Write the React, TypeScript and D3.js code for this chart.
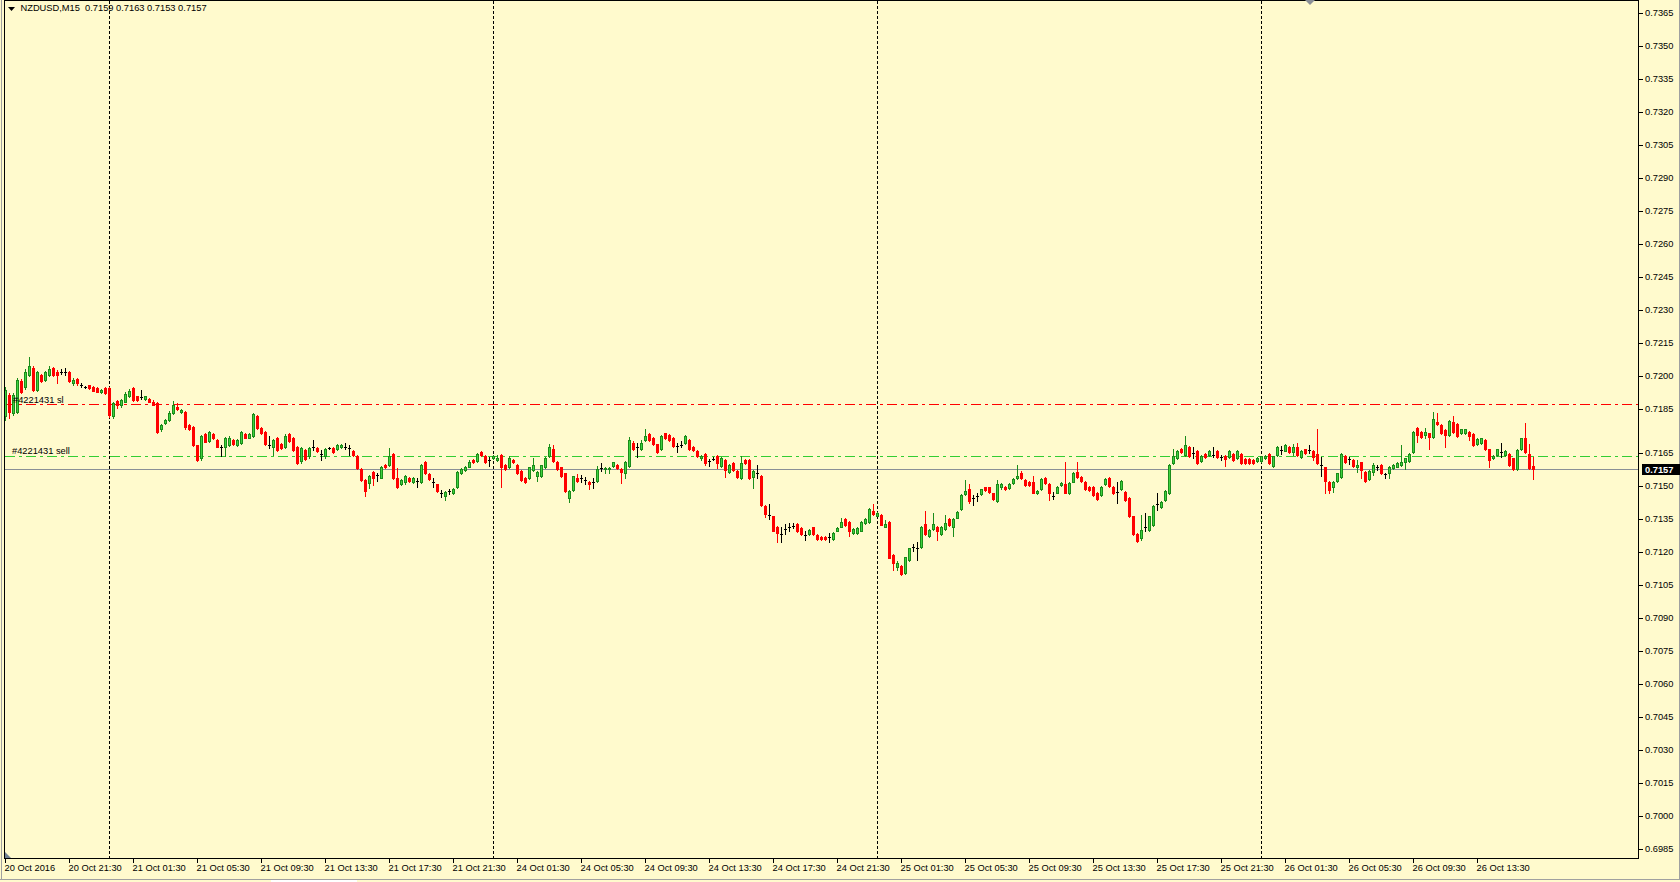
import React, { useRef, useEffect } from 'react';
import * as d3 from 'd3';

// NZDUSD M15, prices in pips (price * 10000), first bar 20 Oct 2016 17:30
const OPEN = [
  7181.5, 7191.3, 7183.0, 7183.7, 7197.4, 7195.1, 7200.4, 7203.4, 7193.6, 7200.4,
  7198.1, 7200.4, 7203.4, 7201.9, 7201.9, 7201.5, 7201.5, 7196.6, 7198.4, 7195.6,
  7195.1, 7195.6, 7195.1, 7194.3, 7192.4, 7194.3, 7194.3, 7181.5, 7188.6, 7186.8,
  7188.3, 7190.9, 7194.3, 7190.6, 7190.2, 7189.3, 7189.5, 7188.3, 7187.5, 7175.7,
  7178.5, 7179.9, 7183.0, 7185.7, 7183.4, 7183.7, 7177.7, 7176.9, 7168.3, 7162.5,
  7173.4, 7170.4, 7173.4, 7170.7, 7167.4, 7167.4, 7168.6, 7170.8, 7168.3, 7169.3,
  7173.4, 7171.9, 7172.4, 7181.8, 7176.1, 7174.3, 7168.6, 7167.4, 7171.9, 7168.9,
  7167.4, 7173.4, 7171.9, 7167.8, 7161.3, 7166.3, 7163.3, 7167.4, 7167.1, 7164.3,
  7163.3, 7167.1, 7167.1, 7166.6, 7167.4, 7167.8, 7167.1, 7165.8, 7163.7, 7157.7,
  7152.7, 7151.2, 7156.1, 7154.9, 7153.7, 7159.5, 7159.2, 7164.3, 7153.4, 7150.7,
  7151.6, 7153.7, 7151.6, 7152.2, 7151.6, 7160.7, 7155.2, 7151.6, 7150.7, 7146.6,
  7145.5, 7147.4, 7146.6, 7149.2, 7155.7, 7157.2, 7158.7, 7161.8, 7161.3, 7165.5,
  7163.6, 7161.8, 7162.5, 7161.8, 7164.0, 7159.5, 7158.3, 7161.8, 7159.5, 7156.8,
  7153.4, 7153.4, 7157.2, 7154.2, 7154.2, 7158.3, 7163.3, 7166.8, 7161.0, 7158.3,
  7155.7, 7144.3, 7148.1, 7153.7, 7153.4, 7152.7, 7151.6, 7151.6, 7152.2, 7157.9,
  7157.5, 7157.5, 7159.1, 7159.4, 7157.5, 7155.7, 7159.1, 7169.3, 7167.8, 7166.6,
  7170.8, 7173.5, 7171.6, 7168.8, 7166.6, 7173.8, 7173.1, 7171.6, 7168.1, 7168.7,
  7169.3, 7170.8, 7167.8, 7166.0, 7162.5, 7164.3, 7161.4, 7162.3, 7163.5, 7159.1,
  7161.7, 7156.4, 7160.5, 7156.7, 7153.4, 7161.7, 7161.7, 7154.1, 7156.0, 7154.4,
  7140.8, 7136.7, 7136.0, 7131.1, 7128.1, 7130.2, 7131.1, 7131.9, 7132.6, 7130.7,
  7127.6, 7128.1, 7131.0, 7127.6, 7126.9, 7126.9, 7126.6, 7125.7, 7129.6, 7131.4,
  7134.9, 7133.4, 7128.4, 7128.4, 7129.6, 7132.9, 7133.4, 7138.7, 7136.4, 7136.7,
  7131.4, 7133.5, 7118.5, 7113.2, 7113.5, 7110.5, 7116.2, 7122.3, 7121.5, 7122.3,
  7132.6, 7127.1, 7130.3, 7131.4, 7128.0, 7130.2, 7134.7, 7131.4, 7135.5, 7139.2,
  7146.2, 7148.3, 7144.2, 7145.4, 7146.2, 7149.2, 7149.2, 7146.5, 7143.2, 7149.3,
  7149.6, 7148.9, 7151.4, 7153.4, 7155.7, 7152.6, 7151.9, 7151.9, 7146.6, 7148.4,
  7153.4, 7150.8, 7145.4, 7146.9, 7150.4, 7150.8, 7146.6, 7151.9, 7156.4, 7153.9,
  7151.9, 7149.6, 7149.3, 7146.9, 7145.8, 7150.8, 7153.4, 7149.3, 7147.3, 7148.4,
  7147.3, 7144.3, 7136.0, 7128.0, 7126.0, 7131.0, 7130.0, 7132.0, 7141.7, 7140.2,
  7143.3, 7146.6, 7160.5, 7162.5, 7166.7, 7164.0, 7167.8, 7165.1, 7166.0, 7161.4,
  7164.5, 7164.0, 7164.0, 7166.0, 7163.0, 7163.6, 7163.0, 7164.5, 7162.5, 7164.5,
  7162.0, 7162.0, 7161.7, 7161.4, 7161.4, 7162.5, 7164.5, 7159.0, 7164.0, 7166.3,
  7166.0, 7167.7, 7165.5, 7167.7, 7163.2, 7166.5, 7166.2, 7165.8, 7164.4, 7159.4,
  7158.3, 7151.8, 7149.2, 7152.3, 7154.1, 7163.5, 7162.0, 7161.7, 7158.3, 7160.6,
  7156.4, 7152.9, 7156.4, 7158.3, 7159.4, 7155.3, 7155.6, 7157.9, 7158.7, 7159.4,
  7160.9, 7161.4, 7165.5, 7176.1, 7174.6, 7173.1, 7173.8, 7172.3, 7179.1, 7177.6,
  7175.3, 7173.1, 7179.1, 7178.0, 7174.1, 7173.8, 7174.6, 7173.5, 7169.0, 7169.3,
  7170.8, 7166.5, 7162.4, 7164.0, 7165.5, 7164.0, 7164.4, 7162.4, 7157.4, 7166.5,
  7171.5, 7164.4, 7159.0,
];

const HIGH = [
  7195, 7192, 7192, 7199, 7198.5, 7203, 7208.7, 7204.5, 7202, 7201,
  7202, 7204.5, 7204, 7202.5, 7203, 7203.5, 7202, 7199, 7199, 7196.5,
  7195.5, 7196, 7195.5, 7195, 7194, 7195, 7195, 7188, 7189, 7189.5,
  7192.5, 7194, 7195, 7191, 7193.6, 7191, 7190, 7188.8, 7188, 7178,
  7180.5, 7184, 7188.5, 7187.5, 7185, 7184.2, 7178, 7177.3, 7168.6, 7173.2,
  7174, 7175, 7174, 7171.2, 7168.6, 7172, 7172.5, 7171.3, 7171.3, 7175,
  7174, 7174, 7183, 7182.3, 7176.5, 7174.7, 7172.8, 7171.2, 7172.3, 7169.3,
  7173.3, 7173.8, 7172.3, 7168.2, 7167.5, 7166.8, 7167.5, 7170.8, 7167.5, 7166.3,
  7167.2, 7167.6, 7167.5, 7169, 7169, 7169.5, 7168.5, 7166.3, 7164, 7158,
  7153, 7155, 7156.5, 7156, 7159, 7160, 7167.1, 7164.8, 7158, 7153,
  7155, 7154, 7154, 7153.5, 7160, 7161.2, 7155.6, 7153.5, 7151, 7148,
  7147.5, 7148.7, 7149, 7156.8, 7158, 7159, 7161.5, 7162.2, 7164.7, 7166,
  7164, 7163, 7163.8, 7164, 7164.5, 7160, 7163.3, 7162.2, 7160, 7157.2,
  7153.8, 7158.7, 7162.5, 7156.5, 7159.6, 7163.2, 7169, 7168.6, 7161.4, 7158.7,
  7156, 7148.1, 7154.6, 7155.5, 7155, 7154, 7152, 7153.5, 7158.8, 7160.5,
  7158.7, 7158.6, 7161, 7159.8, 7157.9, 7161.4, 7172, 7170.5, 7169.6, 7170.8,
  7175.7, 7174, 7172, 7169.2, 7173, 7174.2, 7173.5, 7172, 7169.5, 7170.5,
  7173, 7171.2, 7168.2, 7166.4, 7164, 7164.7, 7162, 7163, 7163.9, 7162.9,
  7162.1, 7159.8, 7160.9, 7157.1, 7163.5, 7162.1, 7162.1, 7157.1, 7159.4, 7154.8,
  7141.2, 7141.6, 7136.4, 7131.5, 7131.4, 7132.5, 7133, 7133, 7133, 7131.1,
  7129.5, 7130.3, 7131.4, 7128, 7127.3, 7127.3, 7128.5, 7128.8, 7131, 7135.5,
  7135.3, 7133.8, 7130.6, 7131.1, 7133.8, 7135.3, 7139.7, 7141.7, 7137.9, 7137,
  7134.5, 7133.9, 7118.9, 7115.9, 7113.9, 7117.8, 7121.9, 7123.5, 7124.5, 7131.8,
  7138.5, 7130.2, 7137.4, 7131.8, 7131.8, 7136.7, 7135.1, 7135.1, 7138.6, 7146.2,
  7152.6, 7150.8, 7145.8, 7146.5, 7148.7, 7149.6, 7149.6, 7146.9, 7152.5, 7151.2,
  7150, 7151.2, 7153.4, 7159.5, 7156.9, 7153, 7152.3, 7154.2, 7148, 7153.3,
  7153.8, 7151.2, 7147.3, 7149.7, 7151.8, 7161, 7151.5, 7156.4, 7161, 7154.3,
  7152.3, 7150, 7149.7, 7147.3, 7149.7, 7153.4, 7153.8, 7149.7, 7151.9, 7152.7,
  7147.7, 7144.7, 7136.4, 7128.4, 7136.7, 7137.8, 7136.4, 7141.2, 7146.6, 7143.2,
  7148, 7159.9, 7166.6, 7166.4, 7167.1, 7172.6, 7168.2, 7167.8, 7166.4, 7164,
  7164.9, 7166.2, 7167.8, 7166.4, 7164, 7164, 7166.4, 7164.9, 7166.4, 7164.9,
  7162.4, 7162.4, 7162.1, 7162.9, 7163.7, 7164, 7164.9, 7163.7, 7167.9, 7168,
  7168.8, 7168.1, 7169.2, 7169.6, 7166.2, 7166.9, 7168.5, 7166.2, 7175.6, 7163.2,
  7158.7, 7152.2, 7152.2, 7156, 7164.8, 7163.9, 7163, 7162.1, 7161.7, 7161,
  7156.8, 7157.2, 7160.5, 7159.5, 7159.8, 7155.6, 7159.1, 7159.8, 7160.6, 7168.5,
  7162.8, 7164.8, 7175, 7176.9, 7175, 7176.1, 7174.2, 7183.7, 7182.9, 7178,
  7175.7, 7180, 7181.7, 7178.4, 7176, 7176, 7175, 7173.9, 7171.5, 7171.9,
  7171.2, 7166.9, 7163.9, 7166.9, 7169.3, 7166.3, 7164.8, 7162.8, 7166.6, 7171.9,
  7178.7, 7169.0, 7163,
];

const LOW = [
  7180, 7181, 7182, 7183, 7192, 7194, 7200, 7193, 7193, 7197,
  7197.5, 7200, 7200, 7196.6, 7201, 7200.5, 7197, 7196, 7196, 7195,
  7194.5, 7194, 7193, 7192.5, 7192, 7191.8, 7181.4, 7181, 7185.3, 7186,
  7188, 7190.5, 7188.5, 7188.5, 7189.5, 7189, 7188, 7186.5, 7173.8, 7175,
  7178, 7179.5, 7182.5, 7184.5, 7183, 7176, 7175.3, 7168, 7161.3, 7161.8,
  7169.7, 7170, 7171.2, 7167.4, 7163.3, 7163.3, 7168.2, 7168.5, 7168, 7169,
  7171.5, 7171.5, 7172, 7175.8, 7173.5, 7168.5, 7167.1, 7164, 7166, 7166.7,
  7167, 7170, 7166, 7160, 7160.5, 7161.8, 7162.8, 7166.3, 7165.4, 7161.8,
  7162.8, 7166.6, 7164.8, 7166.2, 7167, 7166.5, 7164, 7163.5, 7157.5, 7152.3,
  7145.5, 7149, 7150.3, 7152, 7153.3, 7158, 7158.8, 7153, 7148.8, 7150.3,
  7151, 7151.8, 7151.2, 7149.5, 7151.2, 7155.3, 7152.7, 7149.5, 7147, 7145,
  7143.5, 7146.3, 7146.2, 7148.8, 7155.3, 7156.8, 7158.3, 7160.3, 7161, 7163.6,
  7160.3, 7159, 7162, 7161.4, 7149.2, 7157.3, 7158, 7160.3, 7155.3, 7152.3,
  7151.2, 7153, 7156.8, 7152, 7153.8, 7158, 7163, 7161, 7157.3, 7153.8,
  7147, 7142.5, 7147.5, 7151.8, 7151.5, 7151, 7148.5, 7149, 7151.8, 7156.5,
  7155.8, 7155.8, 7158.7, 7157.5, 7151.4, 7153.5, 7158.7, 7166.2, 7163.2, 7166.2,
  7170.4, 7170.4, 7168.4, 7165.1, 7166.2, 7171.2, 7170.4, 7167.7, 7165.5, 7167.5,
  7168.9, 7166.2, 7165.9, 7163.1, 7161.8, 7159.5, 7159, 7161.5, 7158.2, 7158.7,
  7154.1, 7156, 7156.8, 7153.7, 7153, 7159.8, 7153, 7149.1, 7153.4, 7140.9,
  7135.7, 7134.7, 7129.2, 7124.6, 7124.6, 7128, 7129.5, 7130.8, 7129, 7127.7,
  7125.5, 7127.7, 7127.7, 7125.3, 7125.3, 7125.3, 7124.5, 7125.3, 7129.2, 7131,
  7131.8, 7127, 7128, 7128, 7129.2, 7132.5, 7133, 7136.8, 7136, 7132,
  7131, 7116.9, 7111.7, 7111.7, 7109.3, 7110, 7115.8, 7120.5, 7116.2, 7121.9,
  7127.6, 7126.7, 7129.9, 7125.3, 7127.6, 7129.8, 7131.7, 7127.1, 7135.1, 7138.8,
  7145.8, 7142.3, 7141.2, 7143, 7145.8, 7147.6, 7146.9, 7143.4, 7142.8, 7148.4,
  7148, 7148.5, 7151, 7153, 7153, 7150, 7150, 7146.5, 7146.2, 7148,
  7150.7, 7143.6, 7143.9, 7146.5, 7150, 7146.5, 7146.2, 7151.5, 7153.5, 7151.9,
  7148, 7147.7, 7145.4, 7143.5, 7145.4, 7150.4, 7149.5, 7146.2, 7142.3, 7148,
  7142.9, 7135.6, 7127.6, 7124.3, 7125.5, 7129.5, 7129.6, 7131.6, 7139, 7139.8,
  7142.9, 7146.2, 7160.1, 7162.1, 7165.1, 7163.6, 7162.9, 7162.5, 7160.1, 7161,
  7162.6, 7163.6, 7163, 7162.6, 7161.7, 7159, 7162.6, 7161.3, 7162.1, 7160.1,
  7160.1, 7160.1, 7160.1, 7161, 7161, 7162.1, 7160.1, 7158.6, 7163.6, 7164.5,
  7165.6, 7165.1, 7163.9, 7163.6, 7162.8, 7164.6, 7165, 7161.7, 7159.8, 7154.4,
  7146.5, 7146.5, 7147, 7151.9, 7153.7, 7160.5, 7160, 7158.6, 7156.4, 7153.3,
  7151.9, 7152.5, 7154.9, 7157, 7155.2, 7153.5, 7153.4, 7157.5, 7158.3, 7159,
  7157.5, 7161, 7165.1, 7170, 7171.9, 7171.5, 7166.5, 7171.9, 7177.6, 7173.7,
  7167.4, 7172.7, 7174.2, 7172.2, 7173.7, 7173.4, 7170.8, 7168.1, 7168.6, 7168.9,
  7166.1, 7158.4, 7162, 7163.6, 7163.2, 7163.6, 7159, 7157, 7157, 7166.1,
  7165.1, 7157.5, 7153,
];

const CLOSE = [
  7193.6, 7183.7, 7191.3, 7198.1, 7192.8, 7201.9, 7204.5, 7193.6, 7201.5, 7197.4,
  7201.5, 7203.0, 7200.4, 7200.4, 7201.9, 7201.5, 7197.4, 7198.1, 7196.6, 7195.6,
  7195.1, 7194.3, 7193.3, 7192.8, 7193.6, 7192.1, 7182.2, 7187.5, 7186.8, 7189.0,
  7191.8, 7193.1, 7189.0, 7189.0, 7190.2, 7190.6, 7188.3, 7186.8, 7174.3, 7177.7,
  7179.9, 7183.3, 7186.8, 7184.8, 7184.5, 7176.5, 7175.7, 7168.3, 7161.8, 7172.8,
  7170.1, 7174.3, 7171.6, 7167.8, 7167.4, 7171.6, 7171.9, 7168.9, 7170.8, 7174.3,
  7171.9, 7173.4, 7182.7, 7176.1, 7173.9, 7168.9, 7168.6, 7170.8, 7166.3, 7167.1,
  7172.8, 7170.4, 7166.3, 7160.5, 7167.1, 7162.2, 7167.1, 7167.4, 7165.8, 7164.3,
  7166.8, 7167.1, 7165.2, 7168.6, 7168.6, 7167.8, 7167.1, 7164.0, 7158.0, 7152.7,
  7147.4, 7154.6, 7153.4, 7154.9, 7158.7, 7158.3, 7163.7, 7153.4, 7149.2, 7152.7,
  7154.6, 7152.2, 7153.7, 7152.2, 7159.5, 7155.7, 7153.1, 7151.6, 7147.4, 7146.6,
  7147.1, 7147.4, 7148.6, 7156.4, 7157.7, 7158.7, 7161.0, 7160.7, 7164.3, 7164.0,
  7160.7, 7161.8, 7163.3, 7162.8, 7158.3, 7157.7, 7162.8, 7160.7, 7155.7, 7152.7,
  7151.6, 7158.3, 7159.2, 7156.1, 7159.2, 7162.8, 7167.4, 7161.3, 7157.7, 7154.2,
  7147.4, 7147.7, 7154.2, 7152.2, 7153.4, 7152.7, 7150.7, 7151.6, 7157.7, 7157.9,
  7158.2, 7158.2, 7160.7, 7158.2, 7156.4, 7161.0, 7170.8, 7166.6, 7167.8, 7169.3,
  7172.6, 7170.8, 7168.8, 7165.5, 7172.6, 7171.6, 7170.8, 7168.1, 7168.1, 7168.7,
  7172.6, 7166.6, 7166.3, 7163.5, 7163.5, 7160.5, 7161.4, 7162.3, 7160.2, 7162.5,
  7157.2, 7159.4, 7157.2, 7154.1, 7160.5, 7160.2, 7153.4, 7156.7, 7156.0, 7141.3,
  7137.2, 7136.7, 7129.6, 7128.4, 7128.1, 7130.2, 7131.1, 7131.9, 7129.4, 7128.1,
  7127.6, 7129.9, 7128.1, 7125.7, 7125.7, 7125.7, 7126.6, 7128.4, 7130.6, 7133.7,
  7132.2, 7129.6, 7130.2, 7130.7, 7133.4, 7134.9, 7139.3, 7137.2, 7137.5, 7132.3,
  7132.6, 7117.3, 7114.7, 7114.7, 7109.7, 7117.4, 7121.5, 7122.3, 7121.5, 7131.4,
  7128.0, 7129.8, 7132.6, 7129.5, 7131.4, 7132.9, 7132.1, 7134.7, 7138.2, 7145.8,
  7147.6, 7143.2, 7144.2, 7145.4, 7148.3, 7148.0, 7147.3, 7143.8, 7150.8, 7150.8,
  7148.4, 7150.8, 7153.0, 7154.5, 7153.4, 7150.4, 7150.4, 7146.9, 7147.6, 7152.9,
  7151.1, 7146.6, 7145.4, 7149.3, 7151.4, 7146.9, 7151.1, 7156.0, 7153.9, 7152.3,
  7148.4, 7148.1, 7145.8, 7143.9, 7149.3, 7153.0, 7149.9, 7146.6, 7147.3, 7152.3,
  7143.3, 7136.0, 7128.0, 7125.0, 7130.0, 7131.0, 7136.0, 7140.8, 7141.7, 7142.8,
  7147.6, 7159.5, 7163.6, 7166.0, 7165.5, 7168.6, 7163.3, 7165.1, 7160.5, 7163.6,
  7163.0, 7165.8, 7164.0, 7163.0, 7163.0, 7162.3, 7166.0, 7161.7, 7166.0, 7160.5,
  7160.5, 7160.5, 7160.5, 7162.5, 7163.3, 7163.6, 7160.5, 7163.3, 7167.5, 7166.3,
  7168.4, 7165.5, 7167.7, 7164.0, 7165.8, 7165.0, 7166.2, 7163.2, 7160.2, 7159.4,
  7152.3, 7148.0, 7151.8, 7155.6, 7164.4, 7160.9, 7162.0, 7159.0, 7159.4, 7157.1,
  7152.3, 7156.8, 7159.4, 7158.3, 7155.6, 7155.3, 7158.7, 7159.4, 7160.2, 7160.9,
  7162.4, 7164.4, 7174.6, 7173.1, 7172.3, 7174.6, 7172.3, 7180.2, 7178.0, 7174.1,
  7173.1, 7179.6, 7174.6, 7172.6, 7175.6, 7175.6, 7172.6, 7168.5, 7171.1, 7171.5,
  7166.5, 7161.7, 7163.5, 7166.5, 7165.5, 7165.9, 7159.4, 7157.4, 7166.2, 7171.5,
  7165.5, 7157.9, 7157.4,
];

const PRICE_TICKS = [
  0.7365, 0.735, 0.7335, 0.732, 0.7305, 0.729, 0.7275, 0.726, 0.7245, 0.723,
  0.7215, 0.72, 0.7185, 0.7165, 0.715, 0.7135, 0.712, 0.7105, 0.709, 0.7075,
  0.706, 0.7045, 0.703, 0.7015, 0.7, 0.6985,
];

const TIME_LABELS = [
  '20 Oct 2016', '20 Oct 21:30', '21 Oct 01:30', '21 Oct 05:30', '21 Oct 09:30',
  '21 Oct 13:30', '21 Oct 17:30', '21 Oct 21:30', '24 Oct 01:30', '24 Oct 05:30',
  '24 Oct 09:30', '24 Oct 13:30', '24 Oct 17:30', '24 Oct 21:30', '25 Oct 01:30',
  '25 Oct 05:30', '25 Oct 09:30', '25 Oct 13:30', '25 Oct 17:30', '25 Oct 21:30',
  '26 Oct 01:30', '26 Oct 05:30', '26 Oct 09:30', '26 Oct 13:30',
];
const BARS_PER_LABEL = 16;

// bar index of each midnight (period separators)
const DAY_BREAKS = [26, 122, 218, 314];

const SL_PRICE = 0.7187;
const SELL_PRICE = 0.71635;
const BID_PRICE = 0.71575;
const HEADER = 'NZDUSD,M15  0.7159 0.7163 0.7153 0.7157';

const W = 1680;
const H = 882;
const FONT = '"Liberation Sans", Arial, sans-serif';
const BG = '#fffacd';

const App: React.FC = () => {
  const svgRef = useRef<SVGSVGElement>(null);

  useEffect(() => {
    if (!svgRef.current) return;
    const svg = d3.select(svgRef.current);
    svg.selectAll('*').remove();

    const left = 4.5, right = 1638.5, top = 0.5, bottom = 858.5;
    const n = CLOSE.length;

    const x = d3.scaleLinear().domain([0, n - 1]).range([5.5, 5.5 + (n - 1) * 4]);
    const y = d3.scaleLinear().domain([0.6985, 0.7365]).range([848.5, 13]);
    const yp = (pips: number) => y(pips / 10000);

    svg.append('rect').attr('width', W).attr('height', H).attr('fill', BG);

    const g = svg.append('g').attr('shape-rendering', 'crispEdges');

    // period separators
    DAY_BREAKS.forEach(b => {
      g.append('line')
        .attr('x1', x(b)).attr('x2', x(b))
        .attr('y1', top).attr('y2', bottom)
        .attr('stroke', '#000').attr('stroke-dasharray', '3,2');
    });

    // order lines + labels
    const hline = (p: number, color: string, dash: string | null) => {
      const yy = Math.round(y(p)) + 0.5;
      const l = g.append('line')
        .attr('x1', left).attr('x2', right)
        .attr('y1', yy).attr('y2', yy)
        .attr('stroke', color);
      if (dash) l.attr('stroke-dasharray', dash);
      return yy;
    };
    const ySl = hline(SL_PRICE, '#ff0000', '10,4,3,4');
    const ySell = hline(SELL_PRICE, '#32cd32', '10,4,3,4');
    const yBid = hline(BID_PRICE, '#8a8f96', null);

    const txt = svg.append('g').attr('font-family', FONT).attr('font-size', 9.3).attr('fill', '#000');
    txt.append('text').attr('x', 13).attr('y', ySl - 2).text('#4221431 sl');
    txt.append('text').attr('x', 12).attr('y', ySell - 2.5).text('#4221431 sell');

    // candles
    const data = d3.range(n).map(i => ({
      i,
      o: OPEN[i], h: Math.max(HIGH[i], OPEN[i], CLOSE[i]),
      l: Math.min(LOW[i], OPEN[i], CLOSE[i]), c: CLOSE[i],
    }));

    const candles = g.append('g');
    data.forEach(d => {
      const cx = x(d.i);
      const doji = Math.abs(d.o - d.c) < 0.15;
      const up = d.c > d.o;
      const wickCol = doji ? '#000' : up ? '#1a8c1a' : '#ff0000';
      candles.append('line')
        .attr('x1', cx).attr('x2', cx)
        .attr('y1', Math.round(yp(d.h))).attr('y2', Math.round(yp(d.l)) + 1)
        .attr('stroke', wickCol);
      if (doji) {
        const yy = Math.round(yp(d.c));
        candles.append('rect')
          .attr('x', cx - 1.5).attr('y', yy).attr('width', 3).attr('height', 1)
          .attr('fill', '#000');
        return;
      }
      const yTop = Math.round(yp(Math.max(d.o, d.c)));
      const yBot = Math.round(yp(Math.min(d.o, d.c)));
      const hgt = Math.max(1, yBot - yTop + 1);
      if (up) {
        candles.append('rect')
          .attr('x', cx - 1.5).attr('y', yTop).attr('width', 3).attr('height', hgt)
          .attr('fill', '#1a8c1a');
        if (hgt > 2) {
          candles.append('rect')
            .attr('x', cx - 0.5).attr('y', yTop + 1).attr('width', 1).attr('height', hgt - 2)
            .attr('fill', '#3fd23f');
        }
      } else {
        candles.append('rect')
          .attr('x', cx - 1.5).attr('y', yTop).attr('width', 3).attr('height', hgt)
          .attr('fill', '#ff0000');
      }
    });

    // frame
    g.append('line').attr('x1', 1.5).attr('x2', 1.5).attr('y1', 0).attr('y2', 879).attr('stroke', '#a0a0a0');
    g.append('path')
      .attr('d', `M${left},${top}H${right}V${bottom}H${left}Z`)
      .attr('fill', 'none').attr('stroke', '#000');
    g.append('line').attr('x1', W - 0.5).attr('x2', W - 0.5).attr('y1', 0).attr('y2', 879).attr('stroke', '#a0a0a0');
    g.append('line').attr('x1', 0).attr('x2', W).attr('y1', 879.5).attr('y2', 879.5).attr('stroke', '#a0a0a0');
    g.append('rect').attr('x', 271).attr('y', 880).attr('width', 86).attr('height', 2).attr('fill', '#ffffff');
    svg.append('path').attr('d', 'M5,852L5,858L11,858Z').attr('fill', '#708090');
    svg.append('path').attr('d', 'M1305,0L1315,0L1310,5Z').attr('fill', '#8a8f96');

    // price axis
    PRICE_TICKS.forEach(p => {
      const yy = Math.round(y(p)) + 0.5;
      g.append('line').attr('x1', right).attr('x2', right + 4).attr('y1', yy).attr('y2', yy).attr('stroke', '#000');
      txt.append('text').attr('x', 1645).attr('y', yy + 2.8).text(p.toFixed(4));
    });

    // bid label
    svg.append('rect').attr('x', 1642).attr('y', yBid - 5.5).attr('width', 38).attr('height', 11).attr('fill', '#000');
    svg.append('text')
      .attr('x', 1645).attr('y', yBid + 3.2)
      .attr('font-family', FONT).attr('font-size', 9.3).attr('font-weight', 'bold')
      .attr('fill', '#fff').text(BID_PRICE.toFixed(4));

    // time axis
    TIME_LABELS.forEach((t, k) => {
      const xx = x(k * BARS_PER_LABEL);
      g.append('line').attr('x1', xx).attr('x2', xx).attr('y1', bottom).attr('y2', bottom + 4).attr('stroke', '#000');
      txt.append('text').attr('x', xx - 1).attr('y', 871).text(t);
    });

    // header
    svg.append('path').attr('d', 'M8,7L15,7L11.5,11Z').attr('fill', '#000');
    txt.append('text').attr('x', 20.5).attr('y', 11).style('white-space', 'pre').text(HEADER);
  }, []);

  return (
    <svg
      ref={svgRef}
      width={W}
      height={H}
      style={{ position: 'absolute', left: 0, top: 0, display: 'block' }}
    />
  );
};

export default App;
